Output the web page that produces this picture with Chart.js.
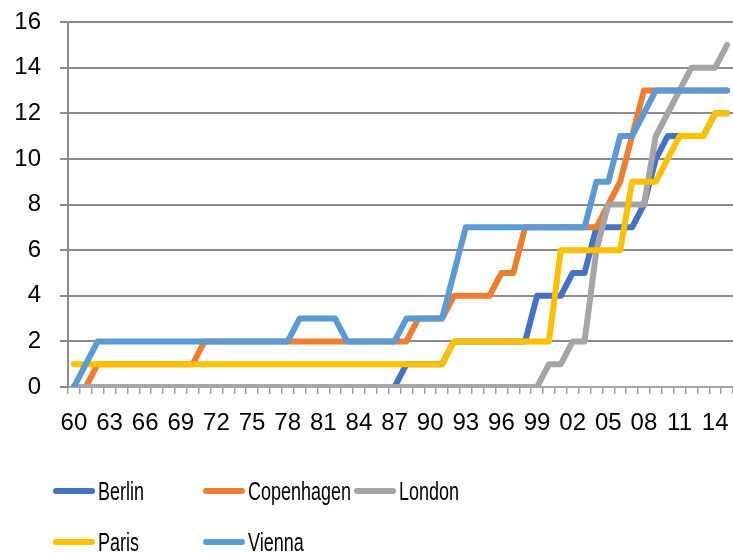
<!DOCTYPE html>
<html lang="en">
<head>
  <meta charset="UTF-8">
  <title>Cities</title>
  <script src="https://cdn.jsdelivr.net/npm/chart.js"></script>
  <style>
    body { margin: 0; background: #fff; }
    #wrap { position: relative; width: 733px; height: 553px; }
    #legend { position: absolute; left: 0; top: 0; width: 733px; height: 553px; pointer-events: none; }
    .item { position: absolute; display: flex; align-items: center; height: 30px; margin-top: -15px;
            font: 25px "Liberation Sans", Arial, sans-serif; color: #000; white-space: nowrap; }
    .swatch { width: 42px; height: 6px; border-radius: 3px; margin-right: 3px; flex: none; }
    .name { display: inline-block; transform: scaleX(0.72); transform-origin: left center; }
  </style>
</head>
<body>
<div id="wrap">
  <canvas id="chart" width="733" height="455"></canvas>
  <div id="legend"></div>
</div>

<script>
// 1960 .. 2015
const years = ['60','61','62','63','64','65','66','67','68','69',
               '70','71','72','73','74','75','76','77','78','79',
               '80','81','82','83','84','85','86','87','88','89',
               '90','91','92','93','94','95','96','97','98','99',
               '00','01','02','03','04','05','06','07','08','09',
               '10','11','12','13','14','15'];

const berlin = [0,0,0,0,0,0,0,0,0,0,
                0,0,0,0,0,0,0,0,0,0,
                0,0,0,0,0,0,0,0,1,1,
                1,1,2,2,2,2,2,2,2,4,
                4,4,5,5,7,7,7,7,8,10,
                11,11,11,11,12,12];
const copenhagen = [0,0,1,1,1,1,1,1,1,1,
                    1,2,2,2,2,2,2,2,2,2,
                    2,2,2,2,2,2,2,2,2,3,
                    3,3,4,4,4,4,5,5,7,7,
                    7,7,7,7,7,8,9,11,13,13,
                    13,13,13,13,13,13];
const london = [0,0,0,0,0,0,0,0,0,0,
                0,0,0,0,0,0,0,0,0,0,
                0,0,0,0,0,0,0,0,0,0,
                0,0,0,0,0,0,0,0,0,0,
                1,1,2,2,6,8,8,8,8,11,
                12,13,14,14,14,15];
const paris = [1,1,1,1,1,1,1,1,1,1,
               1,1,1,1,1,1,1,1,1,1,
               1,1,1,1,1,1,1,1,1,1,
               1,1,2,2,2,2,2,2,2,2,
               2,6,6,6,6,6,6,9,9,9,
               10,11,11,11,12,12];
const vienna = [0,1,2,2,2,2,2,2,2,2,
                2,2,2,2,2,2,2,2,2,3,
                3,3,3,2,2,2,2,2,3,3,
                3,3,5,7,7,7,7,7,7,7,
                7,7,7,7,9,9,11,11,12,13,
                13,13,13,13,13,13];

const series = [
  { name: 'Berlin', data: berlin, color: '#4472C4' },
  { name: 'Copenhagen', data: copenhagen, color: '#ED7D31' },
  { name: 'London', data: london, color: '#A5A5A5' },
  { name: 'Paris', data: paris, color: '#FFC000' },
  { name: 'Vienna', data: vienna, color: '#5B9BD5' }
];

const tickFont = { family: '"Liberation Sans", Arial, sans-serif', size: 24 };

new Chart(document.getElementById('chart'), {
  type: 'line',
  data: {
    labels: years,
    datasets: series.map((s, i) => ({
      label: s.name,
      data: s.data,
      borderColor: s.color,
      backgroundColor: s.color,
      borderWidth: 6,
      pointRadius: 0,
      tension: 0,
      borderCapStyle: 'round',
      borderJoinStyle: 'round',
      order: series.length - i   // later series drawn on top
    }))
  },
  options: {
    responsive: false,
    animation: false,
    devicePixelRatio: 1,
    layout: { padding: { top: 22, right: 0, left: 0, bottom: 0 } },
    plugins: { legend: { display: false }, tooltip: { enabled: false } },
    scales: {
      x: {
        offset: true,
        afterFit: s => { s.height = 68; s.paddingLeft = 0; s.paddingRight = 0; },
        grid: { offset: true, drawOnChartArea: false, drawTicks: true, tickLength: 7, color: '#a0a0a0', lineWidth: 1.5 },
        border: { display: true, color: '#a6a6a6', width: 2 },
        ticks: {
          autoSkip: false, maxRotation: 0, minRotation: 0, padding: 15,
          color: '#000', font: tickFont,
          callback: (v, i) => (i % 3 === 0 ? years[i] : '')
        }
      },
      y: {
        min: 0, max: 16,
        afterFit: s => { s.width = 68; s.paddingTop = 0; s.paddingBottom = 0; },
        grid: { color: '#8c8c8c', lineWidth: 2, tickLength: 8, drawTicks: true },
        border: { display: true, color: '#8c8c8c', width: 2 },
        ticks: { stepSize: 2, padding: 19, color: '#000', font: tickFont }
      }
    }
  }
});

// legend laid out in columns like the original
const legendPos = [[53, 491], [203, 491], [354, 491], [53, 542], [203, 542]];
const legend = document.getElementById('legend');
series.forEach((s, i) => {
  const item = document.createElement('div');
  item.className = 'item';
  item.style.left = legendPos[i][0] + 'px';
  item.style.top = legendPos[i][1] + 'px';
  item.innerHTML = '<span class="swatch" style="background:' + s.color + '"></span><span class="name">' + s.name + '</span>';
  legend.appendChild(item);
});
</script>
</body>
</html>
